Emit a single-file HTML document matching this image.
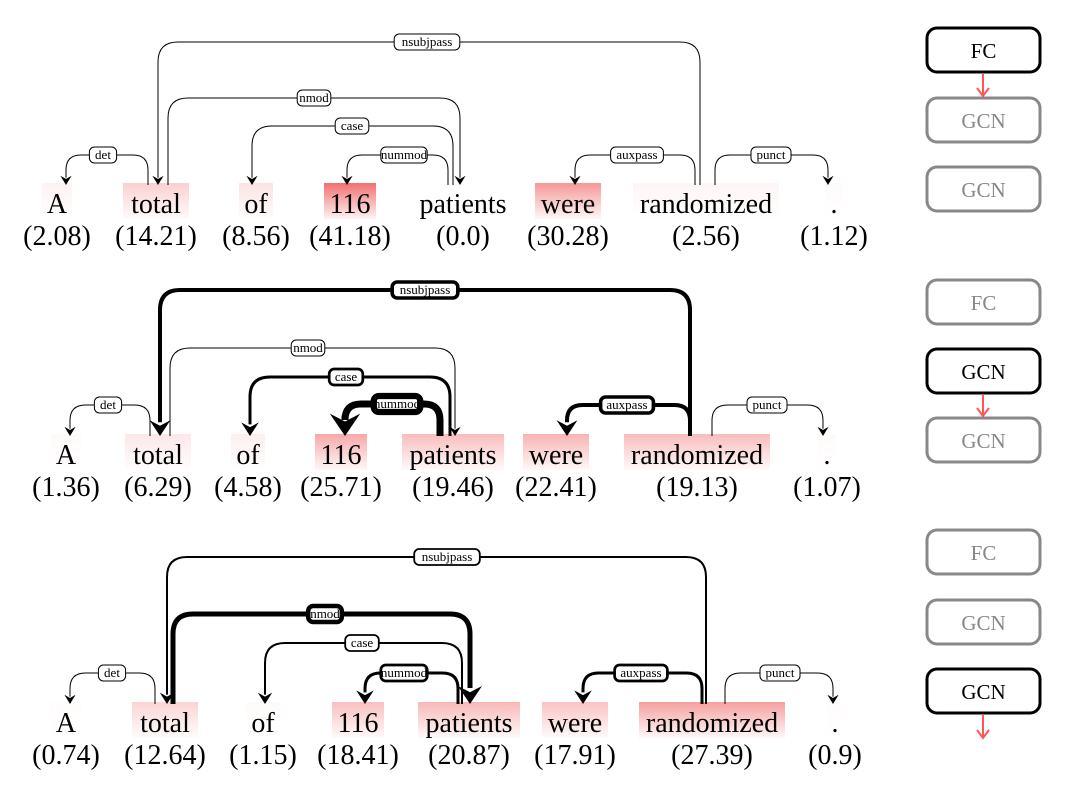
<!DOCTYPE html>
<html><head><meta charset="utf-8"><style>
html,body{margin:0;padding:0;background:#fff}
svg{display:block}
svg text{font-family:"Liberation Serif","DejaVu Serif",serif}
</style></head><body>
<svg id="s" xmlns="http://www.w3.org/2000/svg" width="1073" height="802" viewBox="0 0 1073 802">
<defs>
<linearGradient id="g" x1="0" y1="0" x2="0" y2="1">
<stop offset="0" stop-color="#f06060"/><stop offset="1" stop-color="#f06060" stop-opacity="0.08"/>
</linearGradient>
</defs>
</svg>
<script>
var S=document.getElementById('s'),NS='http://www.w3.org/2000/svg';
function el(t,a,txt){var e=document.createElementNS(NS,t);for(var k in a)e.setAttribute(k,a[k]);if(txt!==undefined)e.textContent=txt;S.appendChild(e);return e;}
var W={"A":20,"total":56,"of":24,"116":42,"patients":92,"were":56,"randomized":136,".":8};
function panel(dy,words,arcs){
  var base=213+dy;
  words.forEach(function(w){
    var wd=W[w[0]]+10;
    if(w[3]>0) el('rect',{x:w[1]-wd/2,y:base-30,width:wd,height:36,fill:'url(#g)',opacity:w[3]});
    el('text',{x:w[1],y:base,'text-anchor':'middle','font-size':28},w[0]);
    el('text',{x:w[1],y:base+32,'text-anchor':'middle','font-size':28},w[2]);
  });
  arcs.forEach(function(a){
    var x1=a[1],x2=a[2],y=a[3]+dy,yb=185+dy,sw=a[5],r=Math.min(20,(yb-y)/2),d=x2<x1?-1:1;
    var ah=7+sw*2.2,aw=4+sw*1.6;
    var p='M'+x1+' '+yb+'V'+(y+r)+'Q'+x1+' '+y+' '+(x1+d*r)+' '+y+'H'+(x2-d*r)+'Q'+x2+' '+y+' '+x2+' '+(y+r)+'V'+(yb-ah+2);
    el('path',{d:p,fill:'none',stroke:'#000','stroke-width':sw});
    el('path',{d:'M'+(x2-aw)+' '+(yb-ah)+'L'+x2+' '+yb+'L'+(x2+aw)+' '+(yb-ah)+'L'+x2+' '+(yb-ah*0.65)+'Z',fill:'#000'});
    var lw=a[0].length*6.4+8;
    el('rect',{x:a[4]-lw/2,y:y-8,width:lw,height:16,rx:5,fill:'#fff',stroke:'#000','stroke-width':Math.max(1,sw*0.9)});
    el('text',{x:a[4],y:y+4,'text-anchor':'middle','font-size':13},a[0]);
  });
}
panel(0,[["A",57,"(2.08)",0.08],["total",156,"(14.21)",0.3],["of",256,"(8.56)",0.18],["116",350,"(41.18)",0.9],["patients",463,"(0.0)",0],["were",568,"(30.28)",0.65],["randomized",706,"(2.56)",0.06],[".",834,"(1.12)",0.03]],
[["nsubjpass",700,158,42,427,1],["nmod",168,460,98,314,1],["case",453,252,126,352,1],["nummod",448,347,155,404,1],["det",148,66,155,103,1],["auxpass",695,575,155,637,1],["punct",715,828,155,771,1]]);
panel(251,[["A",66,"(1.36)",0.03],["total",158,"(6.29)",0.15],["of",248,"(4.58)",0.1],["116",341,"(25.71)",0.55],["patients",453,"(19.46)",0.42],["were",556,"(22.41)",0.48],["randomized",697,"(19.13)",0.42],[".",827,"(1.07)",0.03]],
[["nsubjpass",690,160,39,425,4],["nmod",170,455,97,308,1],["case",450,250,126,346,3],["nummod",440,345,153,397,7],["det",150,70,154,108,1],["auxpass",690,567,154,627,4],["punct",712,823,154,767,1]]);
panel(519,[["A",66,"(0.74)",0.02],["total",165,"(12.64)",0.27],["of",263,"(1.15)",0.03],["116",358,"(18.41)",0.4],["patients",469,"(20.87)",0.45],["were",575,"(17.91)",0.38],["randomized",712,"(27.39)",0.6],[".",835,"(0.9)",0.02]],
[["nsubjpass",706,167,38,447,2],["nmod",173,470,95,325,5],["case",462,265,124,362,2],["nummod",458,365,154,404,3],["det",155,70,154,112,1],["auxpass",702,583,154,641,3],["punct",725,833,154,780,1]]);
function box(y,lab,on){
  el('rect',{x:927,y:y,width:113,height:44,rx:10,fill:'#fff',stroke:on?'#000':'#888','stroke-width':3});
  el('text',{x:983.5,y:y+30,'text-anchor':'middle','font-size':21,fill:on?'#000':'#888'},lab);
}
function arr(y1,y2){el('path',{d:'M983 '+y1+'V'+(y2-1),stroke:'#f55','stroke-width':2,fill:'none'});el('path',{d:'M977 '+(y2-8)+'L983 '+y2+'L989 '+(y2-8),stroke:'#f55','stroke-width':2,fill:'none'});}
box(28,'FC',1);box(98,'GCN',0);box(167,'GCN',0);arr(74,96);
box(280,'FC',0);box(349,'GCN',1);box(418,'GCN',0);arr(395,416);
box(530,'FC',0);box(600,'GCN',0);box(669,'GCN',1);arr(715,738);
</script>
</body></html>
